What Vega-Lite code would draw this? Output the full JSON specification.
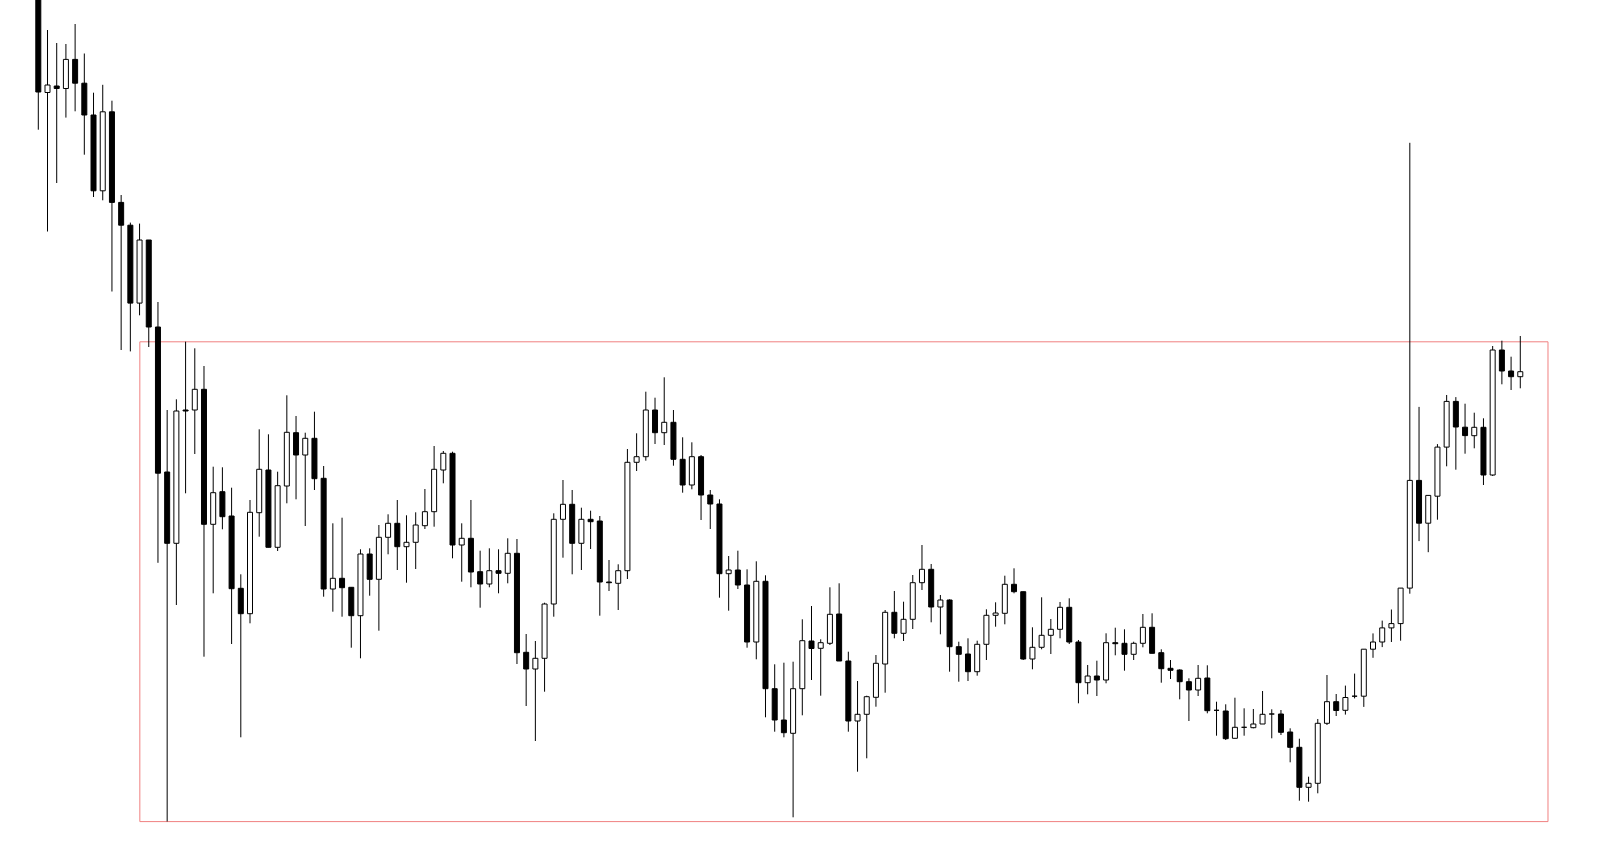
{
"$schema": "https://vega.github.io/schema/vega-lite/v6.json",
"width": 1600, "height": 865,
"autosize": {"type": "fit", "contains": "padding"},
"padding": 0,
"background": "white",
"config": {"view": {"stroke": null}, "scale": {"continuousPadding": 0}},
"datasets": {
"box": [{"x1": 12.03, "x2": 165.01, "y1": 43.4, "y2": 523.2}],
"candles": [
{"i":1,"o":885,"h":905,"l":735.3,"c":773},
{"i":2,"o":772.5,"h":835,"l":633.5,"c":780},
{"i":3,"o":779,"h":822,"l":682,"c":776.5},
{"i":4,"o":776.5,"h":821,"l":747.4,"c":805.6},
{"i":5,"o":805.6,"h":841,"l":753.7,"c":781.8},
{"i":6,"o":781.8,"h":811.5,"l":710.3,"c":750},
{"i":7,"o":750,"h":772.3,"l":668,"c":674.2},
{"i":8,"o":674.2,"h":780.2,"l":664.7,"c":753.2},
{"i":9,"o":753.2,"h":764.3,"l":573.5,"c":662.6},
{"i":10,"o":662.6,"h":670,"l":515,"c":639.8},
{"i":11,"o":639.8,"h":642.4,"l":513.6,"c":561.9},
{"i":12,"o":561.9,"h":641.4,"l":549.7,"c":625},
{"i":13,"o":625,"h":625,"l":518,"c":538},
{"i":14,"o":538,"h":563,"l":302.2,"c":391.8},
{"i":15,"o":393,"h":455,"l":43.5,"c":321.7},
{"i":16,"o":321.7,"h":465.7,"l":260,"c":454},
{"i":17,"o":455,"h":523.3,"l":371.7,"c":454},
{"i":18,"o":455,"h":516.7,"l":411,"c":475.7},
{"i":19,"o":475.7,"h":499,"l":208.3,"c":340.7},
{"i":20,"o":340.7,"h":398.3,"l":271.7,"c":372.3},
{"i":21,"o":373.3,"h":397.7,"l":335.7,"c":348.3},
{"i":22,"o":349,"h":377.3,"l":221,"c":276.3},
{"i":23,"o":276.7,"h":290.7,"l":127.7,"c":251.3},
{"i":24,"o":251.3,"h":365,"l":241.7,"c":352.7},
{"i":25,"o":352.3,"h":435.7,"l":328.3,"c":395.7},
{"i":26,"o":395,"h":430.7,"l":317.7,"c":317.7},
{"i":27,"o":317.7,"h":393.3,"l":314,"c":379.3},
{"i":28,"o":379,"h":469.7,"l":361.7,"c":432.7},
{"i":29,"o":432.3,"h":449,"l":365.7,"c":410},
{"i":30,"o":410,"h":432.3,"l":339,"c":426.7},
{"i":31,"o":426.7,"h":453.3,"l":375,"c":386.3},
{"i":32,"o":386.7,"h":399,"l":268.3,"c":276},
{"i":33,"o":276,"h":341.7,"l":253.3,"c":286.7},
{"i":34,"o":286.7,"h":347.3,"l":248.3,"c":277.3},
{"i":35,"o":277.7,"h":277.7,"l":217.3,"c":249.3},
{"i":36,"o":249.3,"h":315.7,"l":206.7,"c":311},
{"i":37,"o":311,"h":316.7,"l":269.3,"c":285.7},
{"i":38,"o":285.7,"h":340,"l":234.3,"c":327.7},
{"i":39,"o":327.7,"h":350.7,"l":310.7,"c":341.7},
{"i":40,"o":341.7,"h":365,"l":295,"c":318.3},
{"i":41,"o":318.3,"h":349.7,"l":282.3,"c":322.7},
{"i":42,"o":322.7,"h":352.7,"l":296,"c":340},
{"i":43,"o":339.3,"h":376,"l":336,"c":353.3},
{"i":44,"o":353.3,"h":419,"l":338.3,"c":395.7},
{"i":45,"o":395,"h":414,"l":381.7,"c":411.7},
{"i":46,"o":411.7,"h":413.3,"l":306.7,"c":320},
{"i":47,"o":320,"h":341.7,"l":283.3,"c":326.7},
{"i":48,"o":326.7,"h":365,"l":277.7,"c":293},
{"i":49,"o":293.3,"h":314.3,"l":257.3,"c":281},
{"i":50,"o":281,"h":316.7,"l":277.7,"c":294.3},
{"i":51,"o":294.3,"h":315.7,"l":271.7,"c":291.7},
{"i":52,"o":291.7,"h":326.7,"l":281.7,"c":311.7},
{"i":53,"o":311.7,"h":326,"l":201,"c":212.3},
{"i":54,"o":212.7,"h":231,"l":159,"c":196},
{"i":55,"o":196,"h":224,"l":124,"c":206.7},
{"i":56,"o":206.7,"h":262.3,"l":173.3,"c":261},
{"i":57,"o":261,"h":351.7,"l":248.3,"c":345.7},
{"i":58,"o":345.7,"h":385,"l":307.3,"c":360.7},
{"i":59,"o":360.7,"h":375,"l":290.7,"c":321.7},
{"i":60,"o":321.7,"h":357.3,"l":295,"c":345.7},
{"i":61,"o":345.7,"h":354.3,"l":316,"c":343.3},
{"i":62,"o":344,"h":349,"l":249.3,"c":283},
{"i":63,"o":283,"h":305,"l":274,"c":282.3},
{"i":64,"o":281.7,"h":300.7,"l":255,"c":294.3},
{"i":65,"o":294.3,"h":416,"l":286,"c":402.7},
{"i":66,"o":402.7,"h":431.7,"l":394,"c":408.3},
{"i":67,"o":408.3,"h":473.3,"l":404.3,"c":455},
{"i":68,"o":455,"h":467.3,"l":421,"c":432.3},
{"i":69,"o":432.3,"h":487.7,"l":420,"c":442.7},
{"i":70,"o":442.7,"h":455,"l":399.3,"c":405.7},
{"i":71,"o":405.7,"h":427.7,"l":372.3,"c":380},
{"i":72,"o":380,"h":422.7,"l":375.7,"c":408.3},
{"i":73,"o":408.3,"h":410,"l":345,"c":370},
{"i":74,"o":370,"h":375,"l":336,"c":361},
{"i":75,"o":361,"h":365.7,"l":267.3,"c":291.3},
{"i":76,"o":291.3,"h":309,"l":254.3,"c":295},
{"i":77,"o":295,"h":314.3,"l":276,"c":280},
{"i":78,"o":280,"h":295.7,"l":217.3,"c":223},
{"i":79,"o":223,"h":303.7,"l":205.7,"c":283.7},
{"i":80,"o":283.7,"h":289.7,"l":147.7,"c":176.3},
{"i":81,"o":176.3,"h":200.7,"l":133.3,"c":145},
{"i":82,"o":145,"h":202.3,"l":127.7,"c":132.3},
{"i":83,"o":131.7,"h":203.3,"l":47.7,"c":176.3},
{"i":84,"o":176.3,"h":245.7,"l":149.7,"c":224.3},
{"i":85,"o":224,"h":259,"l":185,"c":216.5},
{"i":86,"o":216.7,"h":225.7,"l":169.3,"c":222.3},
{"i":87,"o":221.7,"h":277.7,"l":220,"c":250.7},
{"i":88,"o":251,"h":281.7,"l":204,"c":204},
{"i":89,"o":204,"h":213.3,"l":133.3,"c":144},
{"i":90,"o":144,"h":184,"l":93.3,"c":150.7},
{"i":91,"o":150.7,"h":169.3,"l":106.7,"c":168.3},
{"i":92,"o":167.7,"h":210,"l":158.3,"c":201.7},
{"i":93,"o":201,"h":255,"l":172.3,"c":252.7},
{"i":94,"o":252.7,"h":274,"l":226.7,"c":231.7},
{"i":95,"o":231.7,"h":263.3,"l":224,"c":245.7},
{"i":96,"o":245.7,"h":290,"l":236,"c":282.3},
{"i":97,"o":282.3,"h":320,"l":275,"c":295.7},
{"i":98,"o":295.7,"h":301,"l":242.7,"c":258},
{"i":99,"o":258,"h":270,"l":230.7,"c":265},
{"i":100,"o":265,"h":265.7,"l":193.3,"c":218.3},
{"i":101,"o":218.3,"h":223.3,"l":183.3,"c":210.7},
{"i":102,"o":211,"h":226.7,"l":184,"c":193.3},
{"i":103,"o":193.3,"h":224.3,"l":189.3,"c":220.7},
{"i":104,"o":220.7,"h":255.7,"l":205,"c":249.7},
{"i":105,"o":249.7,"h":262.7,"l":238.3,"c":252},
{"i":106,"o":251.7,"h":289.3,"l":240.7,"c":280.7},
{"i":107,"o":280.7,"h":296.7,"l":271.7,"c":273.3},
{"i":108,"o":273.3,"h":273.3,"l":205,"c":206},
{"i":109,"o":206,"h":237.7,"l":195.7,"c":217.7},
{"i":110,"o":217.7,"h":267.7,"l":215.7,"c":229.7},
{"i":111,"o":229.7,"h":246,"l":211,"c":235.7},
{"i":112,"o":235.7,"h":263,"l":226.7,"c":257.7},
{"i":113,"o":257.7,"h":266.7,"l":221,"c":223},
{"i":114,"o":223,"h":225,"l":161.7,"c":182.3},
{"i":115,"o":182.3,"h":200,"l":170.7,"c":189},
{"i":116,"o":189,"h":204.3,"l":169,"c":185},
{"i":117,"o":185,"h":231.7,"l":181.7,"c":222.3},
{"i":118,"o":222.3,"h":237.3,"l":209.7,"c":221.3},
{"i":119,"o":221.7,"h":235.7,"l":194.3,"c":210.7},
{"i":120,"o":210.7,"h":223.3,"l":205,"c":221.7},
{"i":121,"o":221.7,"h":251,"l":217.7,"c":237.7},
{"i":122,"o":237.7,"h":251.7,"l":211.7,"c":211.7},
{"i":123,"o":212.3,"h":215.7,"l":182.3,"c":196.3},
{"i":124,"o":196.7,"h":205,"l":186,"c":194.7},
{"i":125,"o":195,"h":195.7,"l":165.7,"c":183.3},
{"i":126,"o":183.3,"h":186.7,"l":144,"c":175},
{"i":127,"o":175,"h":200,"l":169,"c":186.7},
{"i":128,"o":187,"h":199.7,"l":151.7,"c":154.3},
{"i":129,"o":154.7,"h":163.3,"l":129.3,"c":154.7},
{"i":130,"o":154,"h":160.7,"l":125,"c":126.3},
{"i":131,"o":126.7,"h":167.3,"l":126.7,"c":137.7},
{"i":132,"o":137.7,"h":156.7,"l":129.3,"c":137.7},
{"i":133,"o":137.3,"h":156,"l":136.7,"c":141},
{"i":134,"o":141,"h":174,"l":141,"c":150.7},
{"i":135,"o":151,"h":155.7,"l":126.7,"c":151},
{"i":136,"o":151,"h":155,"l":130,"c":132.7},
{"i":137,"o":133,"h":136.7,"l":102.7,"c":117.7},
{"i":138,"o":117.7,"h":126.3,"l":64.3,"c":77.7},
{"i":139,"o":77.7,"h":88.3,"l":63.3,"c":81.7},
{"i":140,"o":81.7,"h":146,"l":71.7,"c":141.7},
{"i":141,"o":141.7,"h":190,"l":140,"c":163.3},
{"i":142,"o":163.3,"h":171,"l":149,"c":154.5},
{"i":143,"o":154.7,"h":179.4,"l":150.4,"c":167.5},
{"i":144,"o":168.8,"h":191.4,"l":166.6,"c":168.8},
{"i":145,"o":168.8,"h":215.8,"l":158.1,"c":215.8},
{"i":146,"o":215.8,"h":231.6,"l":207.2,"c":223},
{"i":147,"o":223,"h":244.4,"l":217.9,"c":237.1},
{"i":148,"o":237.1,"h":255.5,"l":223,"c":241.4},
{"i":149,"o":241.4,"h":276.9,"l":224.3,"c":276.9},
{"i":150,"o":276.9,"h":722.2,"l":271.3,"c":384.6},
{"i":151,"o":384.6,"h":458.1,"l":323.9,"c":341.8},
{"i":152,"o":341.8,"h":369.6,"l":312.8,"c":369.6},
{"i":153,"o":368.8,"h":420.9,"l":345.3,"c":417.9},
{"i":154,"o":417.9,"h":470,"l":398.7,"c":463.6},
{"i":155,"o":463.6,"h":467.9,"l":395.3,"c":438},
{"i":156,"o":437.8,"h":461.3,"l":411.3,"c":429.4},
{"i":157,"o":429.3,"h":452.3,"l":416.7,"c":437.7},
{"i":158,"o":437.7,"h":446.7,"l":380,"c":390},
{"i":159,"o":390,"h":519,"l":389,"c":515},
{"i":160,"o":515,"h":524.3,"l":480.7,"c":494},
{"i":161,"o":494,"h":508.3,"l":475,"c":488.3},
{"i":162,"o":488.3,"h":529,"l":476.7,"c":493.3}
]
},
"layer": [
{
"data": {"name": "box"},
"mark": {"type": "rect", "fill": "transparent", "stroke": "#f08080", "strokeWidth": 1, "clip": true},
"encoding": {
"x": {"field": "x1", "type": "quantitative", "scale": {"domain": [-3.161, 170.66], "nice": false, "zero": false, "padding": 0}, "axis": null},
"x2": {"field": "x2"},
"y": {"field": "y1", "type": "quantitative", "scale": {"domain": [0, 865], "nice": false, "zero": false, "padding": 0}, "axis": null},
"y2": {"field": "y2"}
}
},
{
"data": {"name": "candles"},
"mark": {"type": "rule", "color": "#000000", "strokeWidth": 1, "clip": true},
"encoding": {
"x": {"field": "i", "type": "quantitative", "scale": {"domain": [-3.161, 170.66], "nice": false, "zero": false, "padding": 0}, "axis": null},
"y": {"field": "l", "type": "quantitative", "scale": {"domain": [0, 865], "nice": false, "zero": false, "padding": 0}, "axis": null},
"y2": {"field": "h"}
}
},
{
"data": {"name": "candles"},
"mark": {"type": "bar", "width": 5, "stroke": "#000000", "strokeWidth": 1, "clip": true},
"encoding": {
"x": {"field": "i", "type": "quantitative", "scale": {"domain": [-3.161, 170.66], "nice": false, "zero": false, "padding": 0}, "axis": null},
"y": {"field": "o", "type": "quantitative", "scale": {"domain": [0, 865], "nice": false, "zero": false, "padding": 0}, "axis": null},
"y2": {"field": "c"},
"fill": {"condition": {"test": "datum.o > datum.c", "value": "#000000"}, "value": "#ffffff"}
}
}
]
}
